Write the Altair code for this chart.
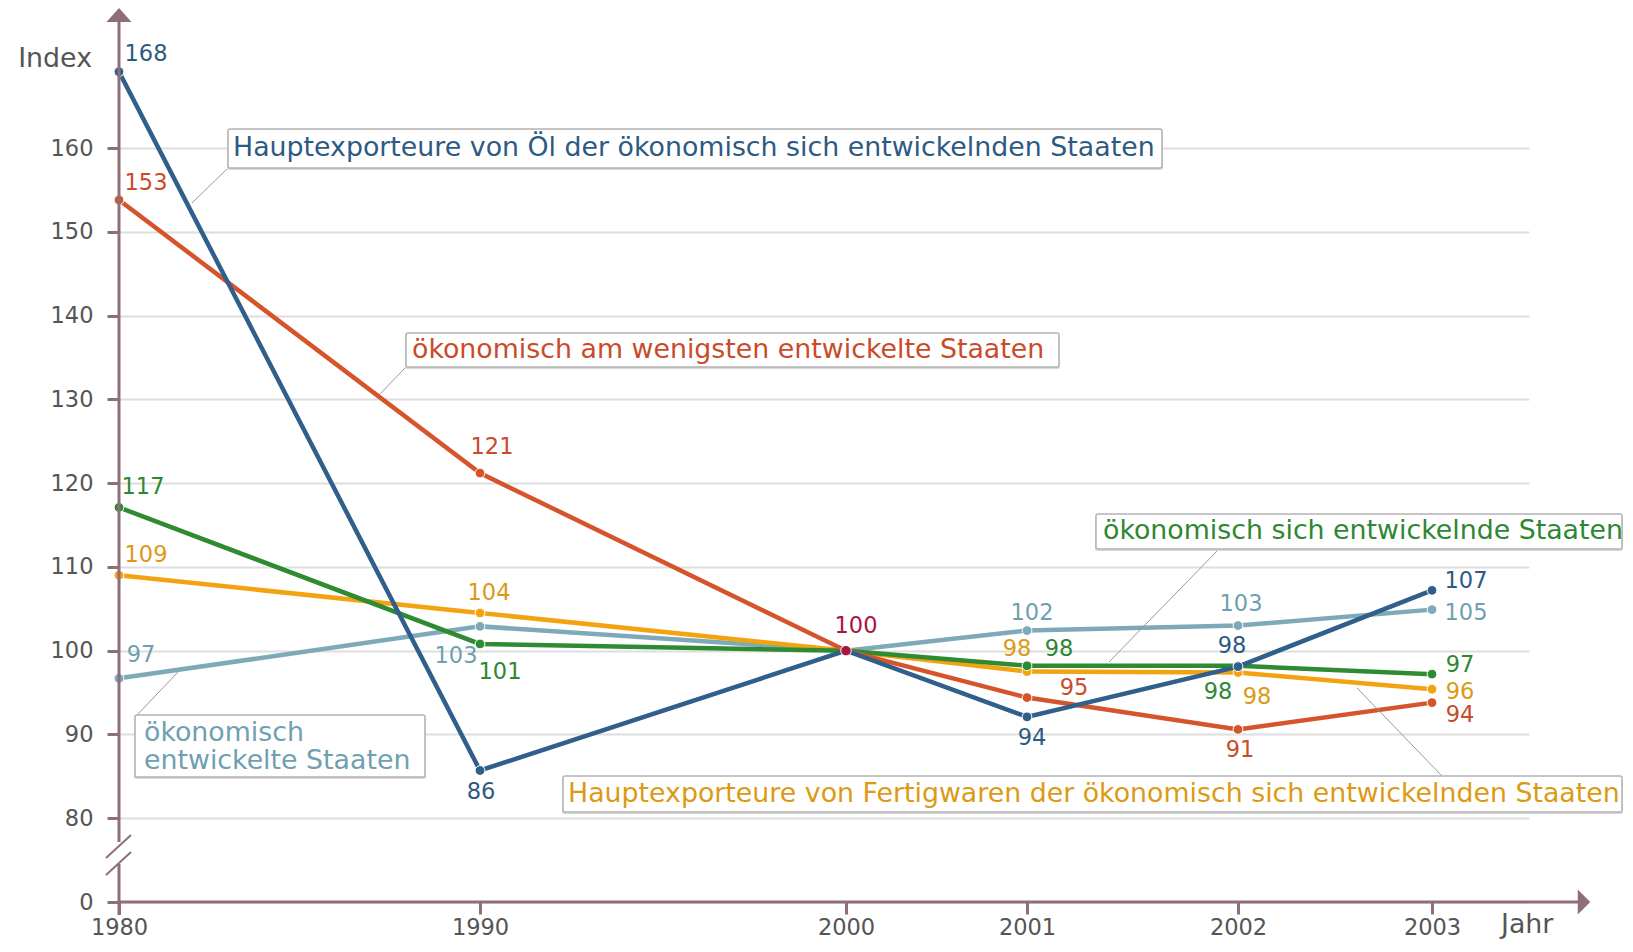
import altair as alt
import pandas as pd

# ---------------- data ----------------
years = [1980, 1990, 2000, 2001, 2002, 2003]

oil_values = [169.1, 85.7, 100, 92.1, 98.1, 107.2]
oil_labels = ["168", "86", "", "94", "98", "107"]

least_values = [153.8, 121.2, 100, 94.4, 90.6, 93.8]
least_labels = ["153", "121", "", "95", "91", "94"]

developing_values = [117.1, 100.8, 100, 98.2, 98.2, 97.2]
developing_labels = ["117", "101", "", "98", "98", "97"]

manuf_values = [109.0, 104.5, 100, 97.5, 97.4, 95.4]
manuf_labels = ["109", "104", "", "98", "98", "96"]

developed_values = [96.7, 102.9, 100, 102.4, 103.0, 104.9]
developed_labels = ["97", "103", "", "102", "103", "105"]

base_year = [2000]
base_value = [100]
base_label = ["100"]

y_ticks = [70, 80, 90, 100, 110, 120, 130, 140, 150, 160]

titles = {
    "oil": "Hauptexporteure von Öl der ökonomisch sich entwickelnden Staaten",
    "least": "ökonomisch am wenigsten entwickelte Staaten",
    "developing": "ökonomisch sich entwickelnde Staaten",
    "developed": ["ökonomisch", "entwickelte Staaten"],
    "manuf": "Hauptexporteure von Fertigwaren der ökonomisch sich entwickelnden Staaten",
}

# ---------------- style ----------------
FONT = "DejaVu Sans"
AXIS_COLOR = "#8f6f77"
TEXT_GRAY = "#555555"
NUM_SIZE = 22.5
WORD_SIZE = 26.8

line_colors = {
    "oil": "#2f5f8a",
    "least": "#d6542b",
    "developing": "#2e8b32",
    "manuf": "#f2a30f",
    "developed": "#7ea9b9",
}
text_colors = {
    "oil": "#2d5a82",
    "least": "#c94b29",
    "developing": "#2e8732",
    "manuf": "#dc9a14",
    "developed": "#6f9fb1",
}
BASE_COLOR = "#a8163e"

draw_order = ["developed", "manuf", "developing", "least", "oil"]
series_values = {
    "oil": oil_values, "least": least_values, "developing": developing_values,
    "manuf": manuf_values, "developed": developed_values,
}
series_labels = {
    "oil": oil_labels, "least": least_labels, "developing": developing_labels,
    "manuf": manuf_labels, "developed": developed_labels,
}

# label offsets (dx, dy) in pixels from the point, centre aligned
label_offsets = {
    ("oil", 1980): (27, -18), ("least", 1980): (27, -17), ("developing", 1980): (24, -20),
    ("manuf", 1980): (27, -20), ("developed", 1980): (22, -23),
    ("least", 1990): (12, -26), ("manuf", 1990): (9, -20), ("developed", 1990): (-24, 30),
    ("developing", 1990): (20, 28), ("oil", 1990): (1, 22),
    ("developed", 2001): (5, -18), ("manuf", 2001): (-10, -23), ("developing", 2001): (32, -17),
    ("least", 2001): (47, -10), ("oil", 2001): (5, 21),
    ("developed", 2002): (3, -22), ("oil", 2002): (-6, -21), ("developing", 2002): (-20, 26),
    ("manuf", 2002): (19, 25), ("least", 2002): (2, 21),
    ("oil", 2003): (34, -9), ("developed", 2003): (34, 3), ("developing", 2003): (28, -9),
    ("manuf", 2003): (28, 3), ("least", 2003): (28, 12),
}

# page origin of the plot area
OX, OY = 119, 14
W, H = 1412, 888

x_domain = years + [2003.5]
x_range = [0, 361, 727, 908, 1119, 1313, 1410]

x_enc = alt.X(
    "year:Q",
    scale=alt.Scale(domain=x_domain, range=x_range, nice=False, zero=False),
    axis=alt.Axis(
        values=years, format="d", title=None, domain=False, grid=False,
        ticks=True, tickSize=12, tickWidth=3, tickColor=AXIS_COLOR,
        labelFont=FONT, labelFontSize=NUM_SIZE, labelColor=TEXT_GRAY,
        labelPadding=2, labelFlush=False, labelOverlap=False,
    ),
)
y_enc = alt.Y(
    "value:Q",
    scale=alt.Scale(domain=[70, 176], nice=False, zero=False),
    axis=alt.Axis(
        values=y_ticks, title=None, domain=False,
        labelExpr="datum.value == 70 ? '0' : datum.label",
        ticks=True, tickSize=12, tickWidth=3, tickColor=AXIS_COLOR,
        labelFont=FONT, labelFontSize=NUM_SIZE, labelColor=TEXT_GRAY,
        labelPadding=14, grid=True, gridColor="#dedede", gridWidth=2,
    ),
)

rows = []
for key in draw_order:
    for yr, v, lab in zip(years, series_values[key], series_labels[key]):
        rows.append({"series": key, "year": yr, "value": v, "label": lab})
df = pd.DataFrame(rows)
base_df = pd.DataFrame({"year": base_year, "value": base_value, "label": base_label})
dummy = pd.DataFrame({"d": [0]})

layers = []

# series lines and points
for key in draw_order:
    sdf = df[df.series == key]
    layers.append(
        alt.Chart(sdf).mark_line(color=line_colors[key], strokeWidth=4.5).encode(x=x_enc, y=y_enc)
    )
    layers.append(
        alt.Chart(sdf[sdf.year != 2000]).mark_point(
            filled=True, size=95, color=line_colors[key], opacity=1,
            stroke="white", strokeWidth=1,
        ).encode(x=x_enc, y=y_enc)
    )

layers.append(
    alt.Chart(base_df).mark_point(
        filled=True, size=110, color=BASE_COLOR, opacity=1, stroke="white", strokeWidth=1
    ).encode(x=x_enc, y=y_enc)
)

# value labels
for key in draw_order:
    sdf = df[(df.series == key) & (df.label != "")]
    for _, r in sdf.iterrows():
        dx, dy = label_offsets[(key, int(r.year))]
        one = sdf[sdf.year == r.year]
        layers.append(
            alt.Chart(one).mark_text(
                dx=dx, dy=dy, align="center", baseline="middle", font=FONT,
                fontSize=NUM_SIZE, color=text_colors[key],
            ).encode(x=x_enc, y=y_enc, text="label:N")
        )
layers.append(
    alt.Chart(base_df).mark_text(
        dx=10, dy=-25, align="center", baseline="middle", font=FONT,
        fontSize=NUM_SIZE, color=BASE_COLOR,
    ).encode(x=x_enc, y=y_enc, text="label:N")
)


# ---------------- decorations (page coordinates) ----------------
def seg(x1, y1, x2, y2, color, width):
    return alt.Chart(dummy).mark_rule(color=color, strokeWidth=width).encode(
        x=alt.value(x1 - OX), y=alt.value(y1 - OY),
        x2=alt.value(x2 - OX), y2=alt.value(y2 - OY),
    )


def box(x1, y1, x2, y2):
    shadow = alt.Chart(dummy).mark_rect(fill="#d9d9d9", cornerRadius=2).encode(
        x=alt.value(x1 - OX - 1), y=alt.value(y1 - OY + 2),
        x2=alt.value(x2 - OX + 1), y2=alt.value(y2 - OY + 2),
    )
    face = alt.Chart(dummy).mark_rect(
        fill="white", stroke="#b3b3b3", strokeWidth=1.5, cornerRadius=2
    ).encode(
        x=alt.value(x1 - OX), y=alt.value(y1 - OY),
        x2=alt.value(x2 - OX), y2=alt.value(y2 - OY),
    )
    return [shadow, face]


def label_text(x, y, txt, color, size=WORD_SIZE, align="left"):
    return alt.Chart(dummy).mark_text(
        align=align, baseline="middle", font=FONT, fontSize=size, color=color
    ).encode(x=alt.value(x - OX), y=alt.value(y - OY), text=alt.value(txt))


deco = []
# axes lines
deco.append(seg(119, 20, 119, 842, AXIS_COLOR, 3))
deco.append(seg(119, 864, 119, 915, AXIS_COLOR, 3))
deco.append(seg(106, 858, 131, 835, AXIS_COLOR, 2))
deco.append(seg(106, 875, 131, 852, AXIS_COLOR, 2))
deco.append(seg(119, 902, 1580, 902, AXIS_COLOR, 3))
deco.append(
    alt.Chart(dummy).mark_point(
        shape="M-1,0.56L0,-0.56L1,0.56Z", filled=True, size=625, color=AXIS_COLOR, opacity=1
    ).encode(x=alt.value(119 - OX), y=alt.value(15 - OY))
)
deco.append(
    alt.Chart(dummy).mark_point(
        shape="M-0.5,-1L0.5,0L-0.5,1Z", filled=True, size=625, color=AXIS_COLOR, opacity=1
    ).encode(x=alt.value(1584 - OX), y=alt.value(902 - OY))
)
deco.append(label_text(92, 59, "Index", TEXT_GRAY, align="right"))
deco.append(label_text(1501, 925, "Jahr", TEXT_GRAY))

# leader lines
LEAD = "#9a9a9a"
deco.append(seg(228, 168, 192, 203, LEAD, 1))
deco.append(seg(406, 367, 380, 394, LEAD, 1))
deco.append(seg(1219, 549, 1109, 662, LEAD, 1))
deco.append(seg(137, 715, 178, 672, LEAD, 1))
deco.append(seg(1443, 777, 1357, 688, LEAD, 1))

# boxes
deco += box(228, 129, 1162, 168)
deco.append(label_text(233, 148, titles["oil"], text_colors["oil"]))
deco += box(406, 333, 1059, 367)
deco.append(label_text(412, 350, titles["least"], text_colors["least"]))
deco += box(1096, 514, 1622, 549)
deco.append(label_text(1103, 531, titles["developing"], text_colors["developing"]))
deco += box(135, 715, 425, 777)
deco.append(label_text(144, 733, titles["developed"][0], text_colors["developed"]))
deco.append(label_text(144, 761, titles["developed"][1], text_colors["developed"]))
deco += box(563, 776, 1622, 812)
deco.append(label_text(568, 794, titles["manuf"], text_colors["manuf"]))

chart = alt.layer(*layers, *deco).properties(
    width=W, height=H,
    padding={"left": OX - 8, "top": OY - 8, "right": 94, "bottom": 39},
    autosize=alt.AutoSizeParams(type="none"),
).configure_view(strokeWidth=0)

chart.save("out.html", embed_options={"renderer": "svg", "actions": False})
